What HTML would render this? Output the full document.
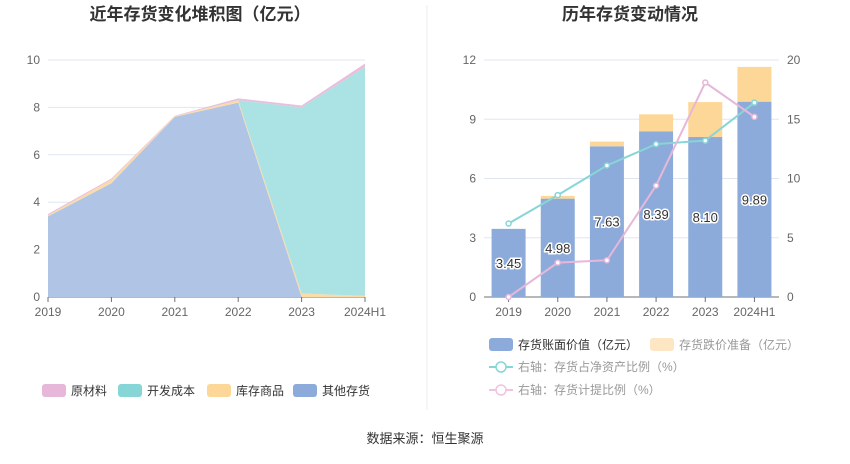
<!DOCTYPE html>
<html><head><meta charset="utf-8"><style>
body{margin:0;width:850px;height:459px;background:#fff;font-family:"Liberation Sans","Noto Sans CJK SC",sans-serif;overflow:hidden}
svg text{font-family:"Liberation Sans","Noto Sans CJK SC",sans-serif}
</style></head><body>
<svg id="s" width="850" height="459" xmlns="http://www.w3.org/2000/svg">
<text x="200" y="20" font-size="17" font-weight="bold" fill="#333" text-anchor="middle">近年存货变化堆积图（亿元）</text>
<text x="630" y="20" font-size="17" font-weight="bold" fill="#333" text-anchor="middle">历年存货变动情况</text>
<line x1="427" y1="5" x2="427" y2="410" stroke="#eee"/>
<g id="L"></g><g id="R"></g>
<g font-size="12" fill="#333">
<rect x="42" y="384" width="24" height="13" rx="3" fill="#e6b7d9"/><text x="71" y="395">原材料</text>
<rect x="118" y="384" width="24" height="13" rx="3" fill="#86d6d8"/><text x="147" y="395">开发成本</text>
<rect x="207" y="384" width="24" height="13" rx="3" fill="#fdd797"/><text x="236" y="395">库存商品</text>
<rect x="293" y="384" width="24" height="13" rx="3" fill="#8cabda"/><text x="322" y="395">其他存货</text>
</g>
<g font-size="12">
<rect x="489" y="338" width="24" height="13" rx="3" fill="#8cabda"/><text x="518" y="349" fill="#333">存货账面价值（亿元）</text>
<rect x="650" y="338" width="24" height="13" rx="3" fill="#fde6c4"/><text x="679" y="349" fill="#999">存货跌价准备（亿元）</text>
<g><line x1="489" y1="367" x2="513" y2="367" stroke="#86d6d8" stroke-width="2"/><circle cx="501" cy="367" r="5" fill="#fff" stroke="#86d6d8" stroke-width="1.5"/><text x="518" y="371" fill="#999">右轴：存货占净资产比例（%）</text></g>
<g><line x1="489" y1="390" x2="513" y2="390" stroke="#f0c4e0" stroke-width="2"/><circle cx="501" cy="390" r="5" fill="#fff" stroke="#f0c4e0" stroke-width="1.5"/><text x="518" y="394" fill="#999">右轴：存货计提比例（%）</text></g>
</g>
<text x="425" y="443" font-size="13" fill="#333" text-anchor="middle">数据来源：恒生聚源</text>
</svg>
<script>
const cats=["2019","2020","2021","2022","2023","2024H1"];
const other=[3.40,4.80,7.60,8.20,0,0];
const goods=[0.05,0.15,0.03,0.10,0.15,0.05];
const devCost=[0,0,0,0,7.85,9.65];
const raw=[0.05,0.05,0.02,0.08,0.08,0.15];
const leftTicks=[0,2,4,6,8,10];
const bookValue=[3.45,4.98,7.63,8.39,8.10,9.89];
const reserve=[0,0.14,0.24,0.86,1.77,1.76];
const netRatio=[6.2,8.6,11.1,12.9,13.2,16.4];
const provRatio=[0,2.9,3.1,9.4,18.1,15.2];
const rLeftTicks=[0,3,6,9,12];
const rRightTicks=[0,5,10,15,20];
const NS="http://www.w3.org/2000/svg";
function mk(p,t,a){const e=document.createElementNS(NS,t);for(const k in a)e.setAttribute(k,a[k]);p.appendChild(e);return e;}
// left
const L=document.getElementById('L');
const lx=i=>48+i*(365-48)/(cats.length-1), ly=v=>297-v*(297-60)/10;
leftTicks.forEach(t=>{const g=mk(L,'line',{x1:48,x2:365,y1:ly(t),y2:ly(t),stroke:t?'#e0e6f1':'#6e7079'});


const tx=mk(L,'text',{x:40,y:ly(t)+4,'font-size':12,fill:'#666','text-anchor':'end'});tx.textContent=t;

});
const series=[[other,'#b0c4e6','other-area'],[goods,'#fbdca6','goods-area'],[devCost,'#abe2e3','dev-cost-area'],[raw,'#e8bfdc','raw-material-area']];
let base=cats.map(()=>0);
series.forEach(([d,c,n])=>{const top=base.map((b,i)=>b+d[i]);
let pts=top.map((v,i)=>lx(i)+','+ly(v)).concat(base.map((v,i)=>lx(i)+','+ly(v)).reverse());
const p=mk(L,'polygon',{points:pts.join(' '),fill:c});


base=top;});
cats.forEach((c,i)=>{mk(L,'line',{x1:lx(i),x2:lx(i),y1:297,y2:302,stroke:'#6e7079'});
const t=mk(L,'text',{x:lx(i),y:316,'font-size':12,fill:'#666','text-anchor':'middle'});t.textContent=c;

});
// right
const R=document.getElementById('R');
const x0=484,x1=779,bw=(x1-x0)/cats.length;
const rx=i=>x0+bw*(i+0.5), ry=v=>297-v*(297-60)/12, ry2=v=>297-v*(297-60)/20;
rLeftTicks.forEach((t,k)=>{const g=mk(R,'line',{x1:x0,x2:x1,y1:ry(t),y2:ry(t),stroke:t?'#e0e6f1':'#6e7079'});


const a=mk(R,'text',{x:476,y:ry(t)+4,'font-size':12,fill:'#666','text-anchor':'end'});a.textContent=t;


const b=mk(R,'text',{x:787,y:ry2(rRightTicks[k])+4,'font-size':12,fill:'#666'});b.textContent=rRightTicks[k];

});
cats.forEach((c,i)=>{
const b=mk(R,'rect',{x:rx(i)-17,y:ry(bookValue[i]),width:34,height:297-ry(bookValue[i]),fill:'#8cabda'});


const r=mk(R,'rect',{x:rx(i)-17,y:ry(bookValue[i]+reserve[i]),width:34,height:ry(bookValue[i])-ry(bookValue[i]+reserve[i]),fill:'#fdd797'});


mk(R,'line',{x1:rx(i),x2:rx(i),y1:297,y2:302,stroke:'#6e7079'});
const t=mk(R,'text',{x:rx(i),y:316,'font-size':12,fill:'#666','text-anchor':'middle'});t.textContent=c;


const l=mk(R,'text',{x:rx(i),y:ry(bookValue[i]/2)+5,'font-size':13,fill:'#333','text-anchor':'middle',stroke:'#fff','stroke-width':3,'paint-order':'stroke'});l.textContent=bookValue[i].toFixed(2);


});
[[netRatio,'#86d6d8','line-net-asset-ratio'],[provRatio,'#e6b7d9','line-provision-ratio']].forEach(([d,c,n])=>{
const p=mk(R,'polyline',{points:d.map((v,i)=>rx(i)+','+ry2(v)).join(' '),fill:'none',stroke:c,'stroke-width':2});


d.forEach((v,i)=>{const q=mk(R,'circle',{cx:rx(i),cy:ry2(v),r:2.5,fill:'#fff',stroke:c,'stroke-width':1.5});

});
});
</script>
</body></html>
